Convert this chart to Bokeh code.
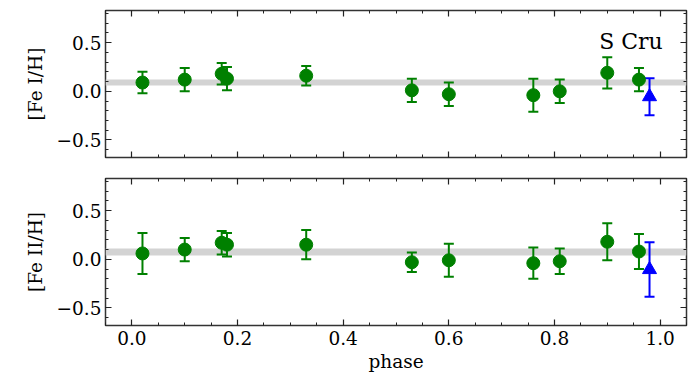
from bokeh.plotting import figure
from bokeh.models import (Range1d, FixedTicker, LinearAxis, Whisker, ColumnDataSource,
                          BoxAnnotation, Label, CustomJSTickFormatter, TeeHead)
from bokeh.layouts import column
from bokeh.embed import file_html
from bokeh.resources import INLINE

# ---------------- data ----------------
phase = [0.02, 0.10, 0.17, 0.18, 0.33, 0.53, 0.60, 0.76, 0.81, 0.90, 0.96]
fe1 = [0.09, 0.12, 0.18, 0.13, 0.16, 0.01, -0.03, -0.04, 0.00, 0.19, 0.12]
fe1_err = [0.11, 0.12, 0.11, 0.12, 0.10, 0.12, 0.12, 0.17, 0.12, 0.16, 0.12]
fe2 = [0.06, 0.10, 0.17, 0.15, 0.15, -0.03, -0.01, -0.04, -0.02, 0.18, 0.08]
fe2_err = [0.21, 0.12, 0.12, 0.12, 0.15, 0.10, 0.17, 0.16, 0.13, 0.19, 0.18]

blue_phase = [0.98]
blue_fe1 = [-0.055]
blue_fe1_err = [0.19]
blue_fe2 = [-0.105]
blue_fe2_err = [0.28]

band_fe1 = (0.06, 0.12)
band_fe2 = (0.04, 0.11)

x_major = [0.0, 0.2, 0.4, 0.6, 0.8, 1.0]
x_minor = [-0.05, 0.0, 0.05, 0.1, 0.15, 0.2, 0.25, 0.3, 0.35, 0.4, 0.45, 0.5,
           0.55, 0.6, 0.65, 0.7, 0.75, 0.8, 0.85, 0.9, 0.95, 1.0, 1.05]
y_major = [-0.5, 0.0, 0.5]
y_minor = [-0.6, -0.5, -0.4, -0.3, -0.2, -0.1, 0.0, 0.1, 0.2, 0.3, 0.4, 0.5, 0.6, 0.7, 0.8]

FONT = "DejaVu Serif"
FS = "18.5px"
GREEN = "#008000"
BLUE = "#0000ff"

fmt_code = "return tick.toFixed(1).replace('-', '\\u2212');"
blank_code = "return '';"


def style_axis(ax, major, minor, show_labels):
    ax.ticker = FixedTicker(ticks=major, minor_ticks=minor)
    ax.major_tick_in = 6
    ax.major_tick_out = 0
    ax.minor_tick_in = 3
    ax.minor_tick_out = 0
    ax.axis_line_color = None
    ax.major_tick_line_color = "#222222"
    ax.minor_tick_line_color = "#222222"
    ax.major_tick_line_width = 1.2
    ax.minor_tick_line_width = 1.0
    ax.major_label_text_font = FONT
    ax.axis_label_text_font = FONT
    ax.axis_label_text_font_style = "normal"
    ax.axis_label_text_font_size = FS
    ax.axis_label_text_color = "#000000"
    ax.major_label_text_color = "#000000"
    if show_labels:
        ax.formatter = CustomJSTickFormatter(code=fmt_code)
        ax.major_label_text_font_size = FS
        ax.major_label_standoff = 5
    else:
        ax.formatter = CustomJSTickFormatter(code=blank_code)
        ax.major_label_text_font_size = "1px"
        ax.major_label_standoff = 0


def make_panel(yvals, yerr, bvals, berr, band, ylabel, bottom):
    p = figure(frame_width=581, frame_height=147,
               x_range=Range1d(-0.05, 1.05), y_range=Range1d(-0.68, 0.83),
               min_border_left=105, min_border_right=8,
               min_border_top=10 if not bottom else 11,
               min_border_bottom=10 if not bottom else 0,
               toolbar_location=None, output_backend="svg",
               x_axis_type=None, y_axis_type=None)
    p.background_fill_color = "white"
    p.border_fill_color = "white"
    p.outline_line_color = "#333333"
    p.outline_line_width = 1.5
    p.grid.visible = False

    # axes
    xb = LinearAxis()
    style_axis(xb, x_major, x_minor, bottom)
    if bottom:
        xb.axis_label = "phase"
        xb.axis_label_standoff = 3
    p.add_layout(xb, "below")
    xa = LinearAxis()
    style_axis(xa, x_major, x_minor, False)
    p.add_layout(xa, "above")
    yl = LinearAxis(axis_label=ylabel)
    style_axis(yl, y_major, y_minor, True)
    yl.major_label_standoff = 4
    yl.axis_label_standoff = 8
    p.add_layout(yl, "left")
    yr = LinearAxis()
    style_axis(yr, y_major, y_minor, False)
    p.add_layout(yr, "right")

    # band
    p.add_layout(BoxAnnotation(bottom=band[0], top=band[1], fill_color="#d3d3d3",
                               fill_alpha=1.0, line_alpha=0, level="underlay"))

    # green points
    src = ColumnDataSource(dict(x=phase, y=yvals,
                                lo=[v - e for v, e in zip(yvals, yerr)],
                                hi=[v + e for v, e in zip(yvals, yerr)]))
    p.add_layout(Whisker(source=src, base="x", lower="lo", upper="hi",
                         line_color=GREEN, line_width=2,
                         upper_head=TeeHead(size=10, line_color=GREEN, line_width=2),
                         lower_head=TeeHead(size=10, line_color=GREEN, line_width=2)))
    p.scatter("x", "y", source=src, marker="circle", size=13,
              fill_color=GREEN, line_color=GREEN)

    # blue point
    bsrc = ColumnDataSource(dict(x=blue_phase, y=bvals,
                                 lo=[v - e for v, e in zip(bvals, berr)],
                                 hi=[v + e for v, e in zip(bvals, berr)]))
    p.add_layout(Whisker(source=bsrc, base="x", lower="lo", upper="hi",
                         line_color=BLUE, line_width=2,
                         upper_head=TeeHead(size=10, line_color=BLUE, line_width=2),
                         lower_head=TeeHead(size=10, line_color=BLUE, line_width=2)))
    p.scatter("x", "y", source=bsrc, marker="triangle", size=14,
              fill_color=BLUE, line_color=BLUE)
    return p


top = make_panel(fe1, fe1_err, blue_fe1, blue_fe1_err, band_fe1, "[Fe I/H]", False)
top.add_layout(Label(x=1.005, y=0.51, text="S Cru", text_align="right",
                     text_baseline="alphabetic", text_font=FONT,
                     text_font_size="22px", text_color="#000000"))
bot = make_panel(fe2, fe2_err, blue_fe2, blue_fe2_err, band_fe2, "[Fe II/H]", True)

layout = column(top, bot, spacing=0)
open("out.html", "w").write(file_html(layout, INLINE))
